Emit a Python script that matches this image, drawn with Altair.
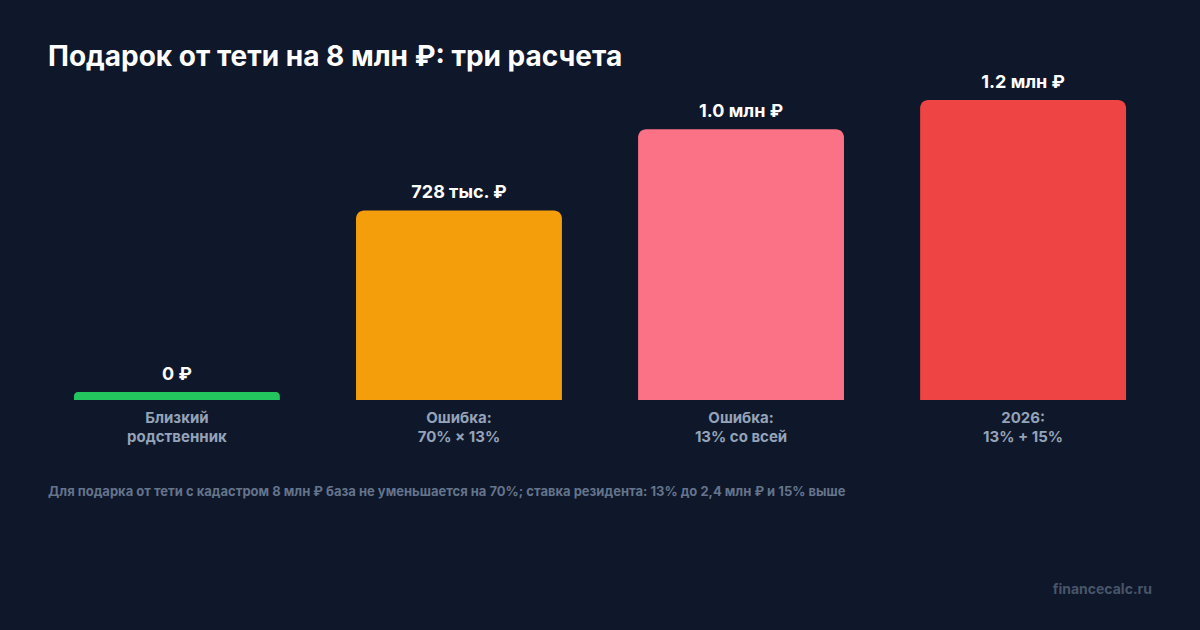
import altair as alt
import pandas as pd

categories = ["Близкий|родственник", "Ошибка:|70% × 13%", "Ошибка:|13% со всей", "2026:|13% + 15%"]
values_mln = [0.0, 0.728, 1.04, 1.152]
value_labels = ["0 ₽", "728 тыс. ₽", "1.0 млн ₽", "1.2 млн ₽"]
colors = ["#22c55e", "#f59e0b", "#fb7185", "#ef4444"]

title_text = "Подарок от тети на 8 млн ₽: три расчета"
footnote = "Для подарка от тети с кадастром 8 млн ₽ база не уменьшается на 70%; ставка резидента: 13% до 2,4 млн ₽ и 15% выше"
watermark = "financecalc.ru"

FONT = "Inter"
BG = "#0f172a"

df = pd.DataFrame({"cat": categories, "value": values_mln, "label": value_labels})

x = alt.X("cat:N", sort=categories,
          scale=alt.Scale(paddingInner=0.27, paddingOuter=0.092),
          axis=alt.Axis(title=None, labelAngle=0, domain=False, ticks=False,
                        labelExpr="split(datum.label, '|')",
                        labelFont=FONT, labelFontSize=15, labelFontWeight="bold",
                        labelColor="#94a3b8", labelPadding=10, labelLineHeight=19))
y = alt.Y("value:Q", scale=alt.Scale(domain=[0, 1.152], nice=False),
          axis=None)
color = alt.Color("cat:N", scale=alt.Scale(domain=categories, range=colors), legend=None)

base = alt.Chart(df).encode(x=x, y=y)

bars = base.transform_filter("datum.value > 0").mark_bar(
    cornerRadiusTopLeft=8, cornerRadiusTopRight=8
).encode(y2=alt.datum(0), color=color)

bars_zero = base.transform_filter("datum.value <= 0").mark_bar(
    cornerRadiusTopLeft=8, cornerRadiusTopRight=8, yOffset=-8
).encode(y2=alt.datum(0), color=color)

labels = base.transform_filter("datum.value > 0").mark_text(
    font=FONT, fontSize=18, fontWeight="bold", color="#ffffff",
    baseline="alphabetic", dy=-12
).encode(text="label:N")

labels_zero = base.transform_filter("datum.value <= 0").mark_text(
    font=FONT, fontSize=18, fontWeight="bold", color="#ffffff",
    baseline="alphabetic", dy=-20
).encode(text="label:N")

note = alt.Chart(pd.DataFrame({"t": [footnote]})).mark_text(
    font=FONT, fontSize=13, fontWeight="bold", color="#64748b",
    align="left", baseline="middle"
).encode(text="t:N", x=alt.value(0), y=alt.value(392))

wm = alt.Chart(pd.DataFrame({"t": [watermark]})).mark_text(
    font=FONT, fontSize=14, fontWeight="bold", color="#475569",
    align="right", baseline="middle"
).encode(text="t:N", x=alt.value(1104), y=alt.value(490))

chart = alt.layer(bars, bars_zero, labels, labels_zero, note, wm).properties(
    width=1104, height=300,
    autosize=alt.AutoSizeParams(type="none"),
    padding={"left": 48, "top": 100, "right": 48, "bottom": 230},
    background=BG,
    title=alt.TitleParams(title_text, anchor="start", font=FONT, fontSize=28,
                          fontWeight="bold", color="#ffffff", offset=2,
                          frame="group")
).configure_view(stroke=None)

chart.save("out.html", embed_options={"renderer": "svg", "actions": False})
